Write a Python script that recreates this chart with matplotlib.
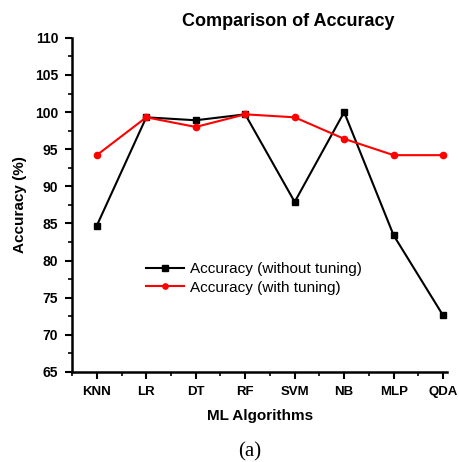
import matplotlib
matplotlib.use("Agg")
import matplotlib.pyplot as plt
from matplotlib.ticker import MultipleLocator, FixedLocator

algorithms = ['KNN', 'LR', 'DT', 'RF', 'SVM', 'NB', 'MLP', 'QDA']
acc_without = [84.7, 99.3, 98.9, 99.7, 87.9, 100.0, 83.4, 72.6]
acc_with = [94.2, 99.3, 98.0, 99.7, 99.3, 96.4, 94.2, 94.2]

plt.rcParams['font.family'] = ['Liberation Sans', 'DejaVu Sans']

fig = plt.figure(figsize=(4.59, 4.62), dpi=100)
ax = fig.add_axes([0.157, 0.195, 0.817, 0.723])

x = list(range(1, len(algorithms) + 1))
ax.plot(x, acc_without, color='black', marker='s', markersize=4.5, linewidth=1.5,
        label='Accuracy (without tuning)')
ax.plot(x, acc_with, color='red', marker='o', markersize=4.5, linewidth=1.5,
        label='Accuracy (with tuning)')

ax.set_xlim(0.5, 8.08)
ax.set_ylim(65, 110)
ax.set_xticks(x)
ax.set_xticklabels(algorithms, fontweight='bold', fontsize=9.5)
ax.xaxis.set_minor_locator(FixedLocator([i + 0.5 for i in range(0, 8)]))
ax.yaxis.set_major_locator(MultipleLocator(5))
ax.yaxis.set_minor_locator(MultipleLocator(2.5))
for lab in ax.get_yticklabels():
    lab.set_fontweight('bold')
    lab.set_fontsize(10)

ax.tick_params(which='major', direction='out', length=5, width=1.5, pad=5)
ax.tick_params(which='minor', direction='out', length=3, width=1.2)

ax.spines['top'].set_visible(False)
ax.spines['right'].set_visible(False)
ax.spines['left'].set_linewidth(1.8)
ax.spines['bottom'].set_linewidth(1.8)

ax.set_xlabel('ML Algorithms', fontweight='bold', fontsize=11, labelpad=8)
ax.set_ylabel('Accuracy (%)', fontweight='bold', fontsize=11, labelpad=6)

fig.text(288 / 459, 1 - 22 / 462, 'Comparison of Accuracy', ha='center', va='center',
         fontweight='bold', fontsize=13)

ax.legend(loc='center left', bbox_to_anchor=(0.18, 0.28), frameon=False, fontsize=11,
          handlelength=2.5, handletextpad=0.4, labelspacing=0.3, borderaxespad=0,
          markerscale=0.85)

fig.text(250 / 459, 1 - 452 / 462, '(a)', ha='center', va='center',
         family=['Liberation Serif', 'DejaVu Serif'], fontsize=15)

fig.savefig('out.png', dpi=100)
